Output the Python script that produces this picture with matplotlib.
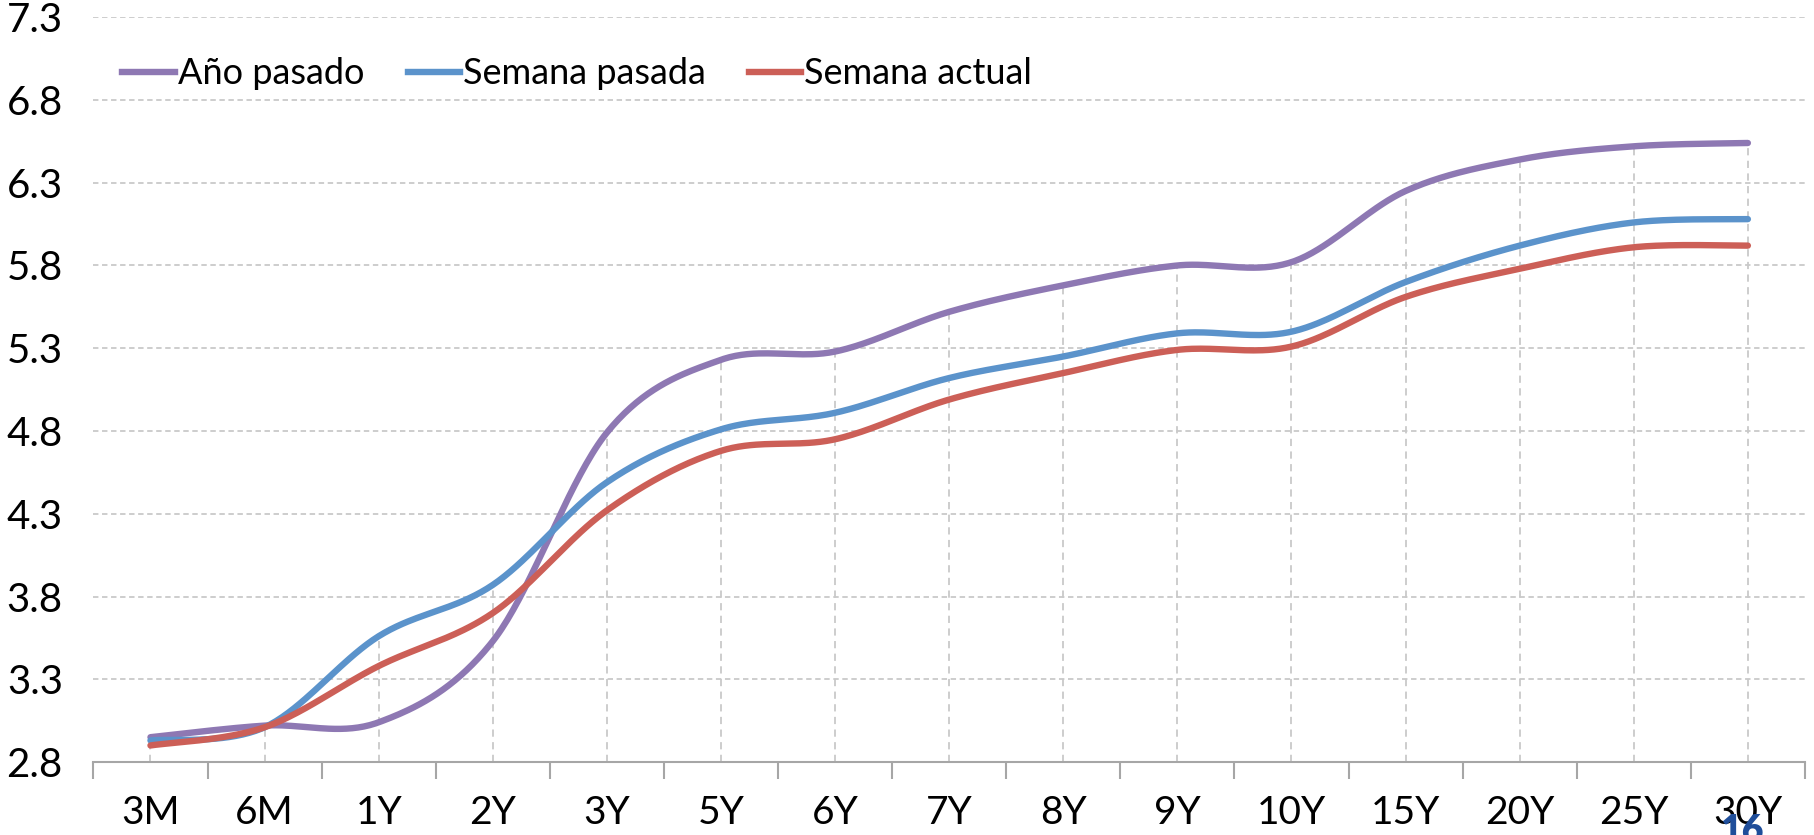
import numpy as np
import matplotlib
matplotlib.use("Agg")
import matplotlib.pyplot as plt
from matplotlib.lines import Line2D

plt.rcParams['font.family'] = ['Lato', 'DejaVu Sans']

# %% data
plazos = ["3M", "6M", "1Y", "2Y", "3Y", "5Y", "6Y", "7Y", "8Y", "9Y", "10Y", "15Y", "20Y", "25Y", "30Y"]
ano_pasado = [2.95, 3.02, 3.04, 3.53, 4.79, 5.23, 5.28, 5.52, 5.68, 5.80, 5.82, 6.25, 6.44, 6.52, 6.54]
semana_pasada = [2.93, 3.01, 3.56, 3.87, 4.49, 4.81, 4.91, 5.12, 5.25, 5.39, 5.40, 5.70, 5.92, 6.06, 6.08]
semana_actual = [2.90, 3.01, 3.38, 3.70, 4.32, 4.68, 4.75, 4.99, 5.15, 5.29, 5.31, 5.61, 5.78, 5.91, 5.92]
yticks = [2.8, 3.3, 3.8, 4.3, 4.8, 5.3, 5.8, 6.3, 6.8, 7.3]

series = [("Año pasado", ano_pasado, "#8E78B3"),
          ("Semana pasada", semana_pasada, "#5B93CB"),
          ("Semana actual", semana_actual, "#CC5F57")]


# %% smooth line like excel (bezier through the points)
def suavizar(y, n=40):
    y = np.asarray(y, dtype=float)
    x = np.arange(len(y), dtype=float)
    px = np.concatenate([[x[0]], x, [x[-1]]])
    py = np.concatenate([[y[0]], y, [y[-1]]])
    xs, ys = [], []
    t = np.linspace(0, 1, n)
    for i in range(1, len(x)):
        p0 = np.array([px[i], py[i]])
        p3 = np.array([px[i + 1], py[i + 1]])
        c1 = p0 + (np.array([px[i + 1], py[i + 1]]) - np.array([px[i - 1], py[i - 1]])) / 6
        c2 = p3 - (np.array([px[i + 2], py[i + 2]]) - np.array([px[i], py[i]])) / 6
        b = ((1 - t) ** 3)[:, None] * p0 + (3 * (1 - t) ** 2 * t)[:, None] * c1 \
            + (3 * (1 - t) * t ** 2)[:, None] * c2 + (t ** 3)[:, None] * p3
        xs.extend(b[:, 0])
        ys.extend(b[:, 1])
    return np.array(xs), np.array(ys)


# %% plot
fig = plt.figure(figsize=(18.14, 8.35), dpi=100)
ax = fig.add_axes([0.0515, 0.0874, 0.9435, 0.892])

x = np.arange(len(plazos))
for yv in yticks[1:]:
    ax.axhline(yv, color="#C9C9C9", lw=1.3, ls=(0, (3, 2)), zorder=0)

tope = np.max([ano_pasado, semana_pasada, semana_actual], axis=0)
ax.vlines(x, yticks[0], tope, color="#C9C9C9", lw=1.3, ls=(0, (4, 3)), zorder=1)

for nombre, vals, col in series:
    xs, ys = suavizar(vals)
    ax.plot(xs, ys, color=col, lw=4.6, solid_capstyle="round", zorder=3)

ax.set_xlim(-0.5, len(plazos) - 0.5)
ax.set_ylim(yticks[0], yticks[-1])
ax.set_yticks(yticks)
ax.set_yticklabels([f"{v:.1f}" for v in yticks])
ax.set_xticks(np.arange(len(plazos) + 1) - 0.5)
ax.set_xticklabels([])
ax.set_xticks(x, minor=True)
ax.set_xticklabels(plazos, minor=True)

for s in ["left", "right", "top"]:
    ax.spines[s].set_visible(False)
ax.spines["bottom"].set_color("#A6A6A6")
ax.spines["bottom"].set_linewidth(1.5)
ax.tick_params(axis="x", which="major", direction="out", length=12, width=1.5, color="#A6A6A6")
ax.tick_params(axis="x", which="minor", length=0, pad=24, labelsize=28)
ax.tick_params(axis="y", length=0, pad=22, labelsize=29)

handles = [Line2D([0], [0], color=c, lw=4.6) for _, _, c in series]
ax.legend(handles, [n for n, _, _ in series], ncol=3, frameon=False, fontsize=26,
          loc="upper left", bbox_to_anchor=(-0.002, 0.99), handlelength=1.45,
          handletextpad=0.08, columnspacing=1.2)

fig.text(0.96, 1 - 814 / 835, "16", color="#1F4E9A", fontsize=27, fontweight="heavy",
         ha="center", va="top")

fig.savefig("out.png", dpi=100)
